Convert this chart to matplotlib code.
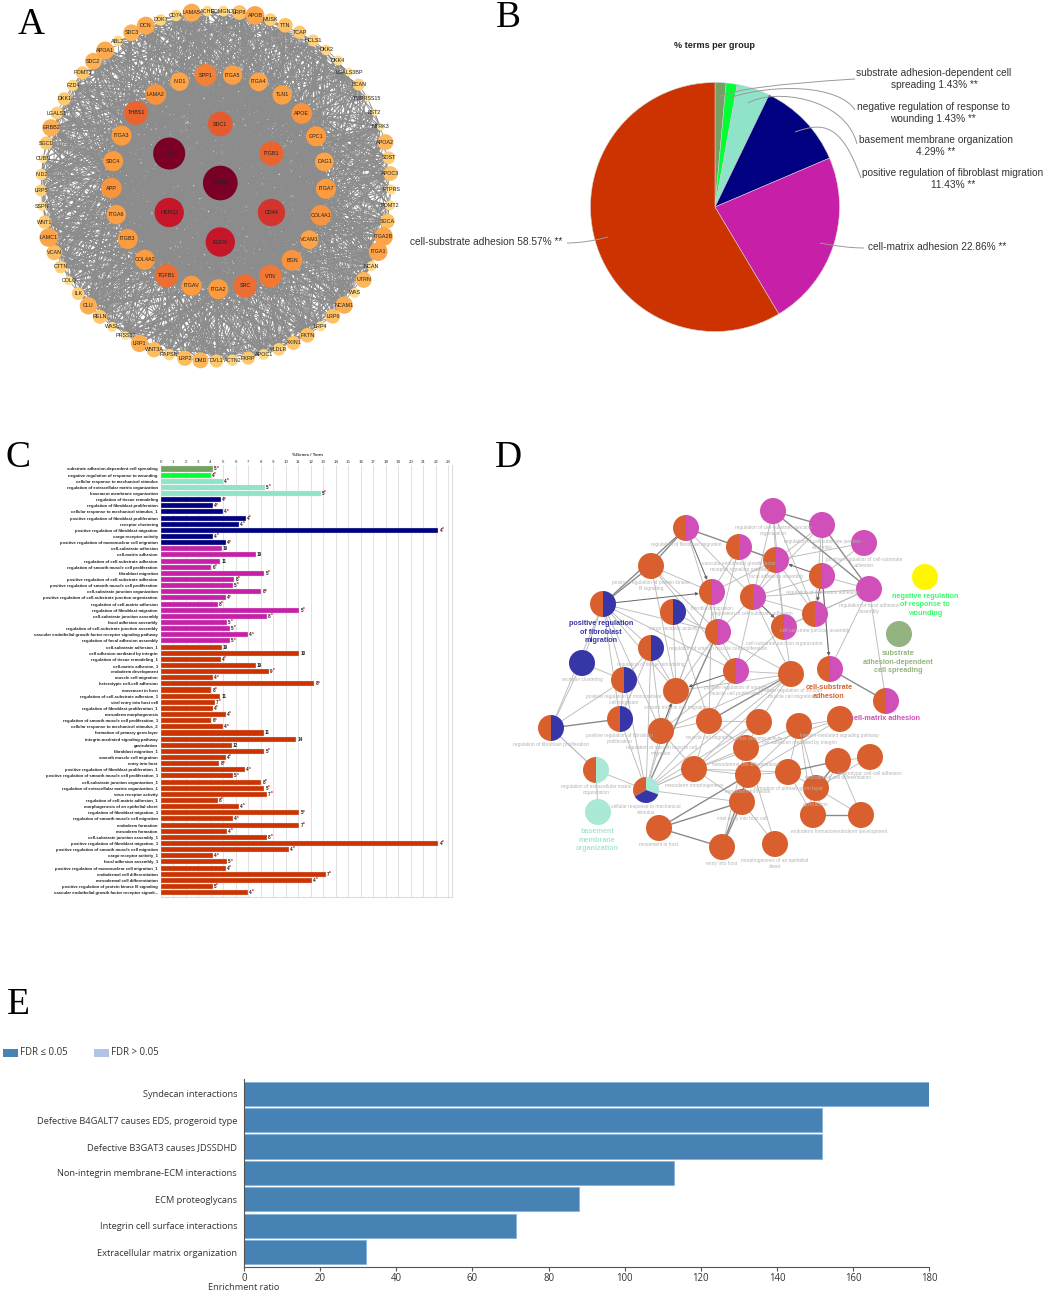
import numpy as np
import matplotlib
matplotlib.use("Agg")
import matplotlib.pyplot as plt
from matplotlib.collections import LineCollection
from matplotlib.colors import LinearSegmentedColormap
from matplotlib.patches import Circle, FancyArrowPatch, PathPatch, Rectangle, Wedge
from matplotlib.path import Path

plt.rcParams["font.family"] = ["Liberation Sans", "DejaVu Sans"]

# ---- panel A: PPI network, degree read as node size, one list per shell
outer_names = ["CD74", "LAMA5", "ACHE", "POMGNT1", "LRP8", "APOB", "MUSK", "TTN", "TCAP", "HCLS1",
               "DKK2", "DKK4", "LGALS3BP", "BCAN", "TMPRSS15", "BST2", "NTRK3", "APOA2", "SOST", "APOC3",
               "PTPRS", "POMT2", "SGCA", "ITGA2B", "ITGA1", "NCAN", "UTRN", "WAS", "NCAM1", "LRP6",
               "LRP4", "FKTN", "AXIN1", "VLDLR", "APOC1", "FKRP", "ACTN2", "DVL1", "DMD", "LRP2",
               "RAPSN", "WNT3A", "LRP1", "PRSS17", "WASL", "RELN", "CLU", "ILK", "COLQ", "CTTN",
               "VCAN", "LAMC1", "WNT1", "SSPN", "LRP5", "NID2", "CUBN", "SGCD", "ERBB2", "LGALS1",
               "DKK1", "FZD4", "POMT1", "SDC2", "APOA1", "ABL2", "SDC3", "DCN", "DOK7"]
outer_size = [17, 27, 16, 16, 22, 28, 19, 22, 20, 18, 16, 15, 13, 18, 11, 11, 11, 24, 19, 22,
              15, 15, 22, 28, 28, 15, 24, 15, 26, 22, 15, 22, 21, 19, 16, 20, 17, 20, 24, 23,
              17, 23, 26, 13, 15, 21, 26, 19, 14, 19, 23, 28, 20, 14, 18, 17, 13, 20, 26, 19,
              20, 17, 20, 25, 27, 16, 25, 27, 17]
middle_names = ["SPP1", "ITGA5", "ITGA4", "TLN1", "APOE", "GPC1", "DAG1", "ITGA7", "COL4A1", "VCAM1",
                "BGN", "VTN", "SRC", "ITGA2", "ITGAV", "TGFB1", "COL4A2", "ITGB3", "ITGA6", "APP",
                "SDC4", "ITGA3", "THBS1", "LAMA2", "NID1"]
middle_size = [33, 29, 28, 29, 31, 30, 28, 30, 31, 28, 31, 34, 35, 30, 30, 35, 30, 30, 29, 31,
               30, 30, 36, 31, 28]
inner_names = ["SDC1", "ITGB1", "CD44", "EGFR", "HSPG2", "FN1"]
inner_size = [37, 36, 41, 44, 44, 48]
hub_name = "AGRN"
hub_size = 52

# ---- panel B
pie_values = [1.43, 1.43, 4.29, 11.43, 22.86, 58.57]
group_colors = ["#74a064", "#00ff33", "#8fe3c8", "#000080", "#c71fa8", "#cc3300"]

# ---- panel C
go_terms = [
    "substrate adhesion-dependent cell spreading", "negative regulation of response to wounding",
    "cellular response to mechanical stimulus", "regulation of extracellular matrix organization",
    "basement membrane organization", "regulation of tissue remodeling",
    "regulation of fibroblast proliferation", "cellular response to mechanical stimulus_1",
    "positive regulation of fibroblast proliferation", "receptor clustering",
    "positive regulation of fibroblast migration", "cargo receptor activity",
    "positive regulation of mononuclear cell migration", "cell-substrate adhesion",
    "cell-matrix adhesion", "regulation of cell-substrate adhesion",
    "regulation of smooth muscle cell proliferation", "fibroblast migration",
    "positive regulation of cell-substrate adhesion", "positive regulation of smooth muscle cell proliferation",
    "cell-substrate junction organization", "positive regulation of cell-substrate junction organization",
    "regulation of cell-matrix adhesion", "regulation of fibroblast migration",
    "cell-substrate junction assembly", "focal adhesion assembly",
    "regulation of cell-substrate junction assembly",
    "vascular endothelial growth factor receptor signaling pathway",
    "regulation of focal adhesion assembly", "cell-substrate adhesion_1",
    "cell adhesion mediated by integrin", "regulation of tissue remodeling_1",
    "cell-matrix adhesion_1", "endoderm development", "muscle cell migration",
    "heterotypic cell-cell adhesion", "movement in host", "regulation of cell-substrate adhesion_1",
    "viral entry into host cell", "regulation of fibroblast proliferation_1", "mesoderm morphogenesis",
    "regulation of smooth muscle cell proliferation_1", "cellular response to mechanical stimulus_2",
    "formation of primary germ layer", "integrin-mediated signaling pathway", "gastrulation",
    "fibroblast migration_1", "smooth muscle cell migration", "entry into host",
    "positive regulation of fibroblast proliferation_1", "positive regulation of smooth muscle cell proliferation_1",
    "cell-substrate junction organization_1", "regulation of extracellular matrix organization_1",
    "virus receptor activity", "regulation of cell-matrix adhesion_1",
    "morphogenesis of an epithelial sheet", "regulation of fibroblast migration_1",
    "regulation of smooth muscle cell migration", "endoderm formation", "mesoderm formation",
    "cell-substrate junction assembly_1", "positive regulation of fibroblast migration_1",
    "positive regulation of smooth muscle cell migration", "cargo receptor activity_1",
    "focal adhesion assembly_1", "positive regulation of mononuclear cell migration_1",
    "endodermal cell differentiation", "mesodermal cell differentiation",
    "positive regulation of protein kinase B signaling",
    "vascular endothelial growth factor receptor signali...",
]
go_percent = [4.2, 4.0, 5.0, 8.35, 12.8, 4.8, 4.15, 5.0, 6.8, 6.25, 22.2, 4.2, 5.2, 4.9, 7.6, 4.75, 4.05, 8.3,
              5.9, 5.8, 8.05, 5.2, 4.55, 11.1, 8.5, 5.3, 5.55, 7.0, 5.55, 4.9, 11.1, 4.8, 7.6, 8.65, 4.2, 12.3,
              4.05, 4.75, 4.35, 4.15, 5.2, 4.05, 5.0, 8.25, 10.85, 5.7, 8.3, 5.2, 4.7, 6.75, 5.8, 8.05, 8.3, 8.5,
              4.55, 6.25, 11.1, 5.8, 11.1, 5.3, 8.5, 22.2, 10.25, 4.2, 5.3, 5.2, 13.2, 12.1, 4.15, 7.0]
go_counts = ["5*", "4*", "4*", "5*", "5*", "4*", "4*", "4*", "4*", "4*", "4*", "4*", "4*", "19", "19", "11", "6*", "5*",
             "8*", "5*", "8*", "4*", "8*", "5*", "8*", "5*", "5*", "4*", "5*", "19", "10", "4*", "19", "9*", "4*", "8*",
             "8*", "11", "7*", "4*", "4*", "6*", "4*", "11", "14", "12", "5*", "4*", "8*", "4*", "5*", "8*", "5*", "7*",
             "8*", "4*", "5*", "4*", "7*", "4*", "8*", "4*", "4*", "4*", "5*", "4*", "7*", "4*", "5*", "4*"]
group_sizes = [1, 1, 3, 8, 16, 41]

# ---- panel D: ClueGO network, node id: (x px, y px, kind, label)
net_nodes = {
    1: (686, 528, "rm", "regulation of fibroblast migration"),
    2: (739, 547, "rm", "vascular endothelial growth factor\nreceptor signaling pathway"),
    3: (773, 511, "m", "regulation of cell-substrate junction\norganization"),
    4: (822, 525, "m", "regulation of cell-substrate junction\nassembly"),
    5: (864, 543, "m", "positive regulation of cell-substrate\nadhesion"),
    6: (776, 560, "rm", "focal adhesion assembly"),
    7: (822, 576, "rm", "regulation of cell-matrix adhesion"),
    8: (869, 589, "m", "regulation of focal adhesion\nassembly"),
    9: (651, 566, "r", "positive regulation of protein kinase\nB signaling"),
    10: (712, 592, "rm", "fibroblast migration"),
    11: (753, 597, "rm", "regulation of cell-substrate adhesion"),
    12: (815, 614, "rm", "cell-substrate junction assembly"),
    13: (784, 627, "rm", "cell-substrate junction organization"),
    14: (603, 604, "rb", ""),
    15: (673, 612, "rb", "cargo receptor activity"),
    16: (718, 632, "rm", "regulation of smooth muscle cell proliferation"),
    17: (651, 648, "rb", "regulation of tissue remodeling"),
    18: (582, 663, "b", "receptor clustering"),
    19: (736, 671, "rm", "positive regulation of smooth\nmuscle cell proliferation"),
    20: (791, 674, "r", "positive regulation of smooth\nmuscle cell migration"),
    21: (830, 669, "rm", ""),
    22: (624, 680, "rb", "positive regulation of mononuclear\ncell migration"),
    23: (676, 691, "r", "smooth muscle cell migration"),
    24: (886, 701, "rm", ""),
    25: (551, 728, "rb", "regulation of fibroblast proliferation"),
    26: (620, 719, "rb", "positive regulation of fibroblast\nproliferation"),
    27: (709, 721, "r", "muscle cell migration"),
    28: (661, 731, "r", "regulation of smooth muscle cell\nmigration"),
    29: (759, 722, "r", "virus receptor activity"),
    30: (799, 726, "r", "cell adhesion mediated by integrin"),
    31: (840, 719, "r", "integrin-mediated signaling pathway"),
    32: (746, 748, "r", "mesodermal cell differentiation"),
    33: (694, 769, "r", "mesoderm morphogenesis"),
    34: (596, 770, "rt", "regulation of extracellular matrix\norganization"),
    35: (646, 790, "rtb", "cellular response to mechanical\nstimulus"),
    36: (748, 775, "r", "mesoderm formation"),
    37: (788, 772, "r", "formation of primary germ layer"),
    38: (838, 761, "r", "endodermal cell differentiation"),
    39: (870, 757, "r", "heterotypic cell-cell adhesion"),
    40: (816, 788, "r", "gastrulation"),
    41: (742, 802, "r", "viral entry into host cell"),
    42: (598, 812, "t", ""),
    43: (813, 815, "r", "endoderm formation"),
    44: (861, 815, "r", "endoderm development"),
    45: (659, 828, "r", "movement in host"),
    46: (722, 847, "r", "entry into host"),
    47: (775, 844, "r", "morphogenesis of an epithelial\nsheet"),
    48: (925, 577, "y", ""),
    49: (899, 634, "g", ""),
}
net_edges = [(3, 6), (3, 11), (3, 12), (3, 13), (4, 6), (4, 7), (4, 11), (4, 12), (5, 6), (5, 7),
             (7, 8), (7, 11), (8, 11), (8, 12), (8, 13), (2, 6), (2, 11), (2, 10), (2, 16), (1, 11), (1, 16),
             (9, 10), (9, 16), (9, 19), (9, 23), (6, 10), (6, 11), (6, 13), (6, 12), (11, 12), (11, 13),
             (11, 16), (11, 19), (11, 20), (12, 13), (13, 20), (13, 19), (8, 24), (14, 16), (14, 17), (14, 25),
             (14, 26), (14, 22), (14, 19), (14, 23), (14, 28), (16, 19), (16, 23), (16, 10), (10, 23), (10, 28),
             (10, 27), (15, 23), (15, 27), (15, 20), (17, 23), (17, 28), (17, 22), (17, 26), (17, 35), (18, 25),
             (18, 22), (18, 14), (19, 20), (19, 27), (19, 28), (20, 23), (20, 28), (20, 33), (20, 35), (22, 25),
             (22, 26), (25, 34), (26, 35), (22, 35), (28, 27), (28, 35), (28, 33), (27, 33), (27, 35), (27, 32),
             (29, 32), (29, 33), (29, 35), (29, 27), (29, 20), (30, 31), (30, 37), (30, 40), (30, 43), (30, 32),
             (30, 36), (31, 36), (31, 33), (32, 33), (33, 35), (33, 36), (33, 41), (34, 35), (34, 42), (34, 25),
             (35, 41), (35, 23), (35, 33), (36, 37), (37, 40), (37, 43), (38, 40), (38, 39), (38, 44), (39, 40),
             (40, 43), (40, 44), (41, 47), (32, 47), (38, 43), (37, 33), (32, 46), (36, 41), (21, 8), (21, 7)]
net_heavy = [(3, 4), (3, 8), (4, 8), (1, 9), (1, 14), (9, 14), (1, 6), (25, 26), (21, 24), (37, 38),
             (36, 46), (41, 46), (43, 44), (45, 46), (36, 45), (41, 45), (20, 27), (16, 35), (40, 38)]
net_arrows = [(1, 10), (14, 10), (7, 6), (7, 12), (28, 23), (19, 23), (11, 13), (7, 21)]
net_bold = [("positive regulation\nof fibroblast\nmigration", 601, 632, "#3636a8"),
            ("negative regulation\nof response to\nwounding", 925, 605, "#33ff66"),
            ("substrate\nadhesion-dependent\ncell spreading", 898, 662, "#93b380"),
            ("cell-substrate\nadhesion", 829, 692, "#d9602e"),
            ("cell-matrix adhesion", 885, 718, "#d04fb8"),
            ("basement\nmembrane\norganization", 597, 840, "#a8e8d5")]

# ---- panel E
pathways = ["Syndecan interactions", "Defective B4GALT7 causes EDS, progeroid type",
            "Defective B3GAT3 causes JDSSDHD", "Non-integrin membrane-ECM interactions",
            "ECM proteoglycans", "Integrin cell surface interactions", "Extracellular matrix organization"]
enrichment = [180, 151.8, 151.8, 113, 88, 71.5, 32]

RED, MAG, BLUE, TEAL = "#d9602e", "#d04fb8", "#3636a8", "#a8e8d5"
KIND_SLICES = {
    "r": [(0, 360, RED)], "m": [(0, 360, MAG)], "b": [(0, 360, BLUE)], "t": [(0, 360, TEAL)],
    "y": [(0, 360, "#fff700")], "g": [(0, 360, "#93b380")],
    "rm": [(90, 270, RED), (-90, 90, MAG)], "rb": [(90, 270, RED), (-90, 90, BLUE)],
    "rt": [(90, 270, RED), (-90, 90, TEAL)],
    "rtb": [(150, 270, RED), (-90, 20, TEAL), (20, 150, BLUE)],
}

fig = plt.figure(figsize=(10.45, 12.93), dpi=100, facecolor="white")
W, H = 1045.0, 1293.0


def px_axes(x0, y0, x1, y1, **kw):
    return fig.add_axes([x0 / W, 1 - y1 / H, (x1 - x0) / W, (y1 - y0) / H], **kw)


# overlay in pixel coordinates for the two networks and annotations
ov = fig.add_axes([0, 0, 1, 1], zorder=10)
ov.set_xlim(0, W)
ov.set_ylim(H, 0)
ov.axis("off")

for letter, x, y in [("A", 31, 25), ("B", 508, 18), ("C", 18, 458), ("D", 508, 458), ("E", 18, 1005)]:
    ov.text(x, y, letter, family="Liberation Serif", fontsize=27, ha="center", va="center", color="black")


# ---------------- A
def ring(names, sizes, cx, cy, rad, start, step):
    ang = np.deg2rad(start - step * np.arange(len(names)))
    return list(names), list(sizes), cx + rad * np.cos(ang), cy - rad * np.sin(ang)


shells = [ring(outer_names, outer_size, 216, 186, 175, 103.2, 360 / 69),
          ring(middle_names, middle_size, 218.7, 181.7, 107.5, 97, 360 / 25),
          ring(inner_names, inner_size, 220.3, 183, 59, 90, 60),
          ([hub_name], [hub_size], np.array([220.3]), np.array([183.0]))]
names = sum((s[0] for s in shells), [])
sizes = np.array(sum((s[1] for s in shells), []), dtype=float)
xs = np.concatenate([s[2] for s in shells])
ys = np.concatenate([s[3] for s in shells])

# single edges of the hairball cannot be read off the picture, this only rebuilds its texture:
# outer nodes reach inward or across with some chords, the inner shells are tightly linked
n = len(names)
n_out = len(outer_names)
n_in = n - n_out
segs = []
for i in range(n_out):
    for k in range(1, int(sizes[i] * 0.7)):
        j = n_out + (i * i * 3 + k * k * 7 + i * k) % n_in
        segs.append([(xs[i], ys[i]), (xs[j], ys[j])])
    for k in range(1, 6):
        j = (i * i * 5 + k * k * 11 + i * k * 3) % n_out
        if j != i:
            segs.append([(xs[i], ys[i]), (xs[j], ys[j])])
for i in range(n_out, n):
    for j in range(i + 1, n):
        segs.append([(xs[i], ys[i]), (xs[j], ys[j])])
    for k in range(1, 22):
        j = (i * i * 7 + k * k * 13 + i * k * 5) % n_out
        segs.append([(xs[i], ys[i]), (xs[j], ys[j])])
ov.add_collection(LineCollection(segs, colors="#8c8c8c", linewidths=0.6, zorder=1))

stops = [(11, "#ffe9a0"), (20, "#fec96e"), (30, "#fd9b3f"), (36, "#e9652f"), (44, "#c8172a"), (48, "#7a0026"),
         (52, "#7a0026")]
cmap = LinearSegmentedColormap.from_list("deg", [((v - 11) / 41, c) for v, c in stops])
for x, y, s, name in zip(xs, ys, sizes, names):
    ov.add_patch(Circle((x, y), s / 3, fc=cmap((s - 11) / 41), ec="none", zorder=2))
    ov.text(x, y, name, fontsize=3.9, ha="center", va="center", color="#222222", zorder=3)

# ---------------- B
ax_pie = px_axes(715 - 125, 207 - 125, 715 + 125, 207 + 125)
ax_pie.pie(pie_values, colors=group_colors, startangle=90, counterclock=False, radius=0.996,
           wedgeprops=dict(linewidth=0.4, edgecolor="#cfcfcf"))
ax_pie.set_xlim(-1, 1)
ax_pie.set_ylim(-1, 1)

ov.text(714, 46, "% terms per group", fontsize=6.6, fontweight="bold", ha="center", va="center", color="#222222")
pie_labels = [("substrate adhesion-dependent cell\nspreading 1.43% **", 934, 79),
              ("negative regulation of response to\nwounding 1.43% **", 933, 113),
              ("basement membrane organization\n4.29% **", 936, 146),
              ("positive regulation of fibroblast migration\n11.43% **", 953, 179),
              ("cell-matrix adhesion 22.86% **", 937, 247),
              ("cell-substrate adhesion 58.57% **", 486, 242)]
for txt, x, y in pie_labels:
    ov.text(x, y, txt, fontsize=7.3, ha="center", va="center", color="#333333", linespacing=1.25)
leaders = [[(855, 79), (738, 86), (719, 97)],
           [(855, 110), (839, 85), (774, 83), (729, 98)],
           [(857, 144), (845, 97), (774, 88), (748, 103)],
           [(861, 178), (841, 123), (823, 122), (795, 132)],
           [(864, 248), (845, 248), (820, 243)],
           [(567, 243), (586, 243), (608, 237)]]
for pts in leaders:
    codes = [Path.MOVETO] + ([Path.CURVE3] * 2 if len(pts) == 3 else [Path.CURVE4] * 3)
    ov.add_patch(PathPatch(Path(pts, codes), fc="none", ec="#999999", lw=0.7))

# ---------------- C
ax_c = px_axes(160.6, 465, 452, 896.6)
y_pos = np.arange(len(go_terms))
bar_colors = np.repeat(group_colors, group_sizes)
ax_c.barh(y_pos, go_percent, height=0.82, color=bar_colors, edgecolor="#dddddd", linewidth=0.25, zorder=2)
ax_c.set_ylim(69.65, -0.65)
ax_c.set_xlim(0, 23.3)
ax_c.xaxis.tick_top()
ax_c.set_xticks(np.arange(0, 24))
ax_c.tick_params(axis="x", length=0, labelsize=3.2, pad=1, colors="#333333")
ax_c.set_yticks(y_pos)
ax_c.set_yticklabels(go_terms, fontsize=3.1, fontweight="bold", color="#222222")
ax_c.tick_params(axis="y", length=0, pad=2)
ax_c.grid(axis="x", color="#dcdcdc", linewidth=0.6, zorder=0)
for side in ["top", "left"]:
    ax_c.spines[side].set_visible(False)
for side in ["right", "bottom"]:
    ax_c.spines[side].set_color("#dcdcdc")
for yy, v, c in zip(y_pos, go_percent, go_counts):
    ax_c.text(v + 0.1, yy, c[0] if c.endswith("*") else c, fontsize=3.3, fontweight="bold", va="center", color="#222222")
    if c.endswith("*"):
        ax_c.text(v + 0.3, yy - 0.12, "*", fontsize=3.3, fontweight="bold", va="center", color="#dd0000")
ov.text(307, 455, "%Genes / Term", fontsize=3.2, fontweight="bold", ha="center", va="center", color="#333333")

# ---------------- D
R_NODE = 13.0
for a, b in net_edges:
    ov.plot([net_nodes[a][0], net_nodes[b][0]], [net_nodes[a][1], net_nodes[b][1]],
            color="#bbbbbb", lw=0.65, zorder=4, solid_capstyle="butt")
for a, b in net_heavy:
    ov.plot([net_nodes[a][0], net_nodes[b][0]], [net_nodes[a][1], net_nodes[b][1]],
            color="#8a8a8a", lw=1.0, zorder=4, solid_capstyle="butt")
for a, b in net_arrows:
    ov.add_patch(FancyArrowPatch(net_nodes[a][:2], net_nodes[b][:2], arrowstyle="-|>", mutation_scale=4.5,
                                 shrinkB=9.4, shrinkA=0, color="#666666", lw=0.7, zorder=5))
for nid, (x, y, kind, label) in net_nodes.items():
    for t1, t2, col in KIND_SLICES[kind]:
        ov.add_patch(Wedge((x, y), R_NODE, t1, t2, fc=col, ec="none", zorder=6))
    if label:
        dy = 19.5 if "\n" in label else 16.5
        ov.text(x, y + dy, label, fontsize=3.5, ha="center", va="center", color="#b4b4b4", zorder=7, linespacing=1.3)
for txt, x, y, col in net_bold:
    ov.text(x, y, txt, fontsize=5.2, fontweight="bold", ha="center", va="center", color=col, zorder=8,
            linespacing=1.35)

# ---------------- E
ax_e = px_axes(244, 1079, 929.3, 1266.7)
ax_e.barh(np.arange(len(pathways)), enrichment, height=0.91, color="#4682b4", edgecolor="#86b3d8", linewidth=0.6)
ax_e.set_xlim(0, 180)
ax_e.set_ylim(6.553, -0.557)
ax_e.set_yticks(np.arange(len(pathways)))
ax_e.set_yticklabels(pathways, fontsize=6.7, family="Open Sans", color="#333333")
ax_e.tick_params(axis="y", length=0, pad=5)
ax_e.set_xticks(np.arange(0, 181, 20))
ax_e.tick_params(axis="x", length=3, width=0.8, color="#555555", labelsize=6.9, labelcolor="#333333", pad=1.5)
for lab in ax_e.get_xticklabels():
    lab.set_family("Open Sans")
for side in ["top", "right"]:
    ax_e.spines[side].set_visible(False)
for side in ["left", "bottom"]:
    ax_e.spines[side].set_color("#555555")
    ax_e.spines[side].set_linewidth(0.8)
ov.text(244, 1287, "Enrichment ratio", fontsize=6.6, family="Open Sans", ha="center", va="center", color="#333333")

ov.add_patch(Rectangle((3, 1049), 15, 7.5, fc="#4682b4", ec="none"))
ov.add_patch(Rectangle((94, 1049), 15, 7.5, fc="#aec6e4", ec="none"))
ov.text(20.5, 1052.5, "FDR \u2264 0.05", fontsize=6.9, family=["Open Sans", "DejaVu Sans"], va="center", color="#333333")
ov.text(111, 1052.5, "FDR > 0.05", fontsize=6.9, family=["Open Sans", "DejaVu Sans"], va="center", color="#333333")

fig.savefig("out.png", dpi=100, facecolor="white")
plt.close(fig)
